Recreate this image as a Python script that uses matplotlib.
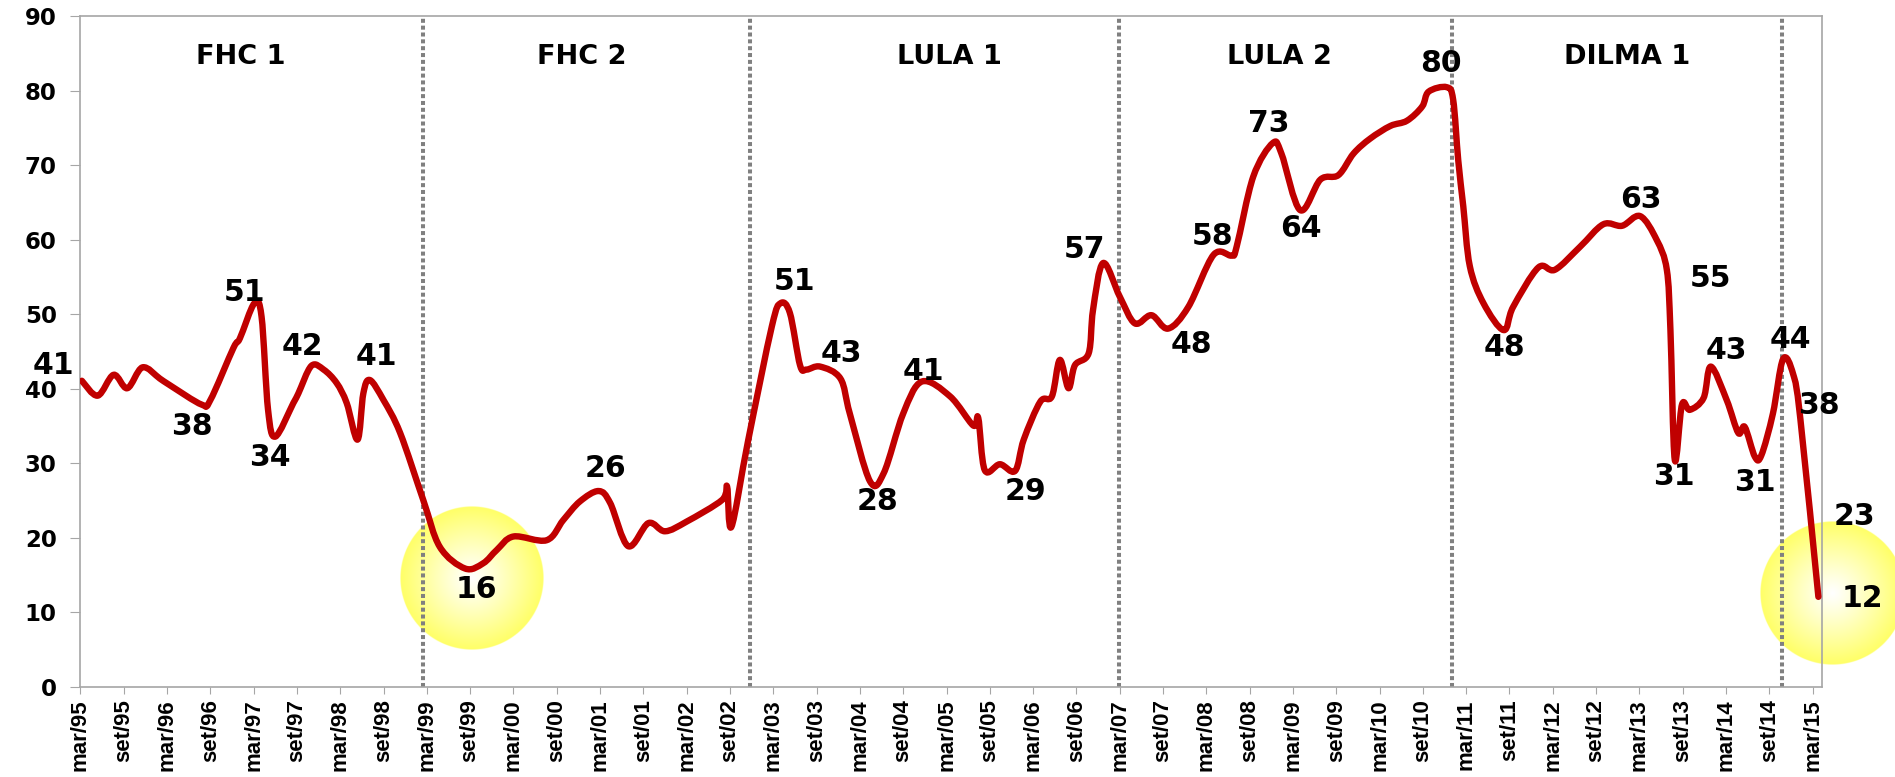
import matplotlib.pyplot as plt
import numpy as np
from matplotlib.path import Path
from matplotlib.patches import PathPatch

# survey month (0 = mar/95) and approval (%)
months = [0.2, 2.4, 4.6, 6.5, 8.6, 11.0, 12.4, 16.8, 18.0, 21.2, 22.1, 24.1, 25.1, 26.0, 27.0,
          29.5, 30.2, 32.0, 33.7, 35.5, 36.9, 38.4, 39.2, 40.1, 42.0, 44.3, 47.5, 49.8, 53.3,
          55.8, 57.7, 60.0, 64.6, 66.9, 69.2, 71.8, 73.4, 75.9, 78.7, 81.0, 84.0, 88.9, 89.6,
          90.2, 92.5, 95.8, 97.0, 98.3, 99.7, 100.6, 102.5, 105.3, 106.6, 109.4, 111.3, 114.0, 116.6,
          120.5, 123.7, 124.4, 125.3, 127.4, 129.5, 130.7, 133.0, 134.6, 135.7, 136.9, 137.8,
          139.7, 140.3, 141.7, 144.0, 146.1, 148.4, 150.7, 153.5, 157.0, 159.5, 160.2, 162.5,
          165.2, 166.4, 169.0, 171.8, 174.3, 176.4, 178.7, 181.5, 183.8, 185.9, 186.8, 189.3,
          190.2, 190.9, 191.6, 192.5, 194.4, 197.2, 198.5, 202.0, 204.3, 207.8, 211.0, 213.6,
          216.1, 218.4, 219.8, 220.3, 220.9, 221.9, 223.0, 224.9, 225.9, 228.1, 229.7, 230.6,
          232.0, 232.9, 234.5, 235.9, 237.3, 238.3, 240.8]
approval = [41.1, 39.1, 41.9, 40.1, 42.9, 41.4, 40.5, 37.9, 38.5, 45.5, 46.8, 51.5, 49.7, 37.2, 33.6,
            38.1, 39.4, 43.1, 42.6, 40.8, 38.1, 33.2, 39.4, 41.2, 38.5, 34.1, 25.1, 18.8, 15.9,
            16.6, 18.4, 20.2, 19.7, 22.4, 24.9, 26.3, 24.7, 18.9, 22.0, 20.9, 22.2, 25.1, 26.9,
            21.5, 33.0, 48.4, 51.5, 50.2, 43.2, 42.6, 43.0, 41.4, 36.7, 27.6, 28.7, 36.7, 41.0,
            39.0, 35.1, 36.1, 29.1, 29.9, 29.0, 33.2, 38.3, 39.0, 43.9, 40.1, 43.2,
            44.8, 50.6, 56.9, 52.4, 48.8, 49.9, 48.1, 51.0, 58.0, 57.9, 59.1, 68.5,
            73.0, 71.6, 64.0, 68.1, 68.7, 71.6, 73.6, 75.3, 76.0, 77.9, 79.9, 80.5,
            78.8, 70.7, 64.5, 56.5, 51.5, 47.9, 51.0, 56.3, 56.0, 59.1, 62.1, 61.9,
            63.2, 60.0, 56.0, 47.9, 30.5, 37.9, 37.2, 38.8, 43.0, 38.5, 34.1, 34.9,
            30.9, 31.1, 36.7, 44.0, 42.0, 36.0, 12.1]

tick_labels = []
for yr in range(95, 115):
    tick_labels.append('mar/%02d' % (yr % 100))
    tick_labels.append('set/%02d' % (yr % 100))
tick_labels.append('mar/15')

terms = ['FHC 1', 'FHC 2', 'LULA 1', 'LULA 2', 'DILMA 1']
term_breaks = [47.5, 92.8, 143.9, 190.0, 235.7]

point_labels = ['41', '38', '51', '34', '42', '41', '16', '26', '51', '43', '28', '41', '29', '57',
                '48', '58', '73', '64', '80', '48', '63', '55', '43', '44', '31', '31', '38', '23', '12']

# label placement (month, value)
label_pos = [(-3.8, 43.1), (15.5, 35.0), (22.8, 53.0), (26.3, 30.8), (30.8, 45.7), (41.0, 44.3),
             (54.8, 13.1), (72.7, 29.3), (98.9, 54.4), (105.5, 44.8), (110.4, 24.9), (116.8, 42.3),
             (130.9, 26.2), (139.1, 58.7), (153.9, 45.9), (156.8, 60.4), (164.6, 75.6), (169.1, 61.6),
             (188.5, 83.7), (197.3, 45.6), (216.2, 65.4), (225.8, 54.8), (228.0, 45.2), (236.9, 46.6),
             (220.7, 28.2), (232.0, 27.5), (240.8, 37.8), (245.8, 22.9), (246.9, 11.9)]
term_pos = [22.2, 69.5, 120.4, 166.1, 214.3]

fig = plt.figure(figsize=(18.95, 7.77), dpi=100)
ax = fig.add_axes([80.4 / 1895, 1 - 687 / 777, (1822 - 80.4) / 1895, (687 - 16.4) / 777])


def glow(x0, x1, y0, y1):
    n = 300
    yy, xx = np.mgrid[-1:1:n * 1j, -1:1:n * 1j]
    r = np.sqrt(xx ** 2 + yy ** 2)
    t = np.clip(r, 0, 1) ** 1.1
    img = np.ones((n, n, 4))
    img[..., 2] = 1 - t * 0.6
    img[..., 3] = np.clip((1 - r) * n / 2, 0, 1)
    ax.imshow(img, extent=(x0, x1, y0, y1), origin='lower', aspect='auto',
              interpolation='bilinear', zorder=1, clip_on=False)


glow(44.3, 64.2, 5.0, 24.3)
glow(232.7, 252.7, 2.9, 22.2)

for b in term_breaks:
    ax.axvline(b, color='#808080', lw=2.9, linestyle=(0, (1, 0.7)), dash_capstyle='butt', zorder=2)

# smoothed line through the survey points (like Excel's smoothed line)
pts = np.column_stack([months, approval])
verts = [pts[0]]
codes = [Path.MOVETO]
for i in range(len(pts) - 1):
    p0 = pts[max(i - 1, 0)]
    p1 = pts[i]
    p2 = pts[i + 1]
    p3 = pts[min(i + 2, len(pts) - 1)]
    verts += [p1 + (p2 - p0) / 6, p2 - (p3 - p1) / 6, p2]
    codes += [Path.CURVE4] * 3
ax.add_patch(PathPatch(Path(verts, codes), fill=False, edgecolor='#C00000', lw=4.6,
                       joinstyle='round', capstyle='round', zorder=3))

for t, (x, y) in zip(point_labels, label_pos):
    ax.text(x, y, t, ha='center', va='center', fontsize=21.5, fontweight='bold',
            family='DejaVu Sans', zorder=4)
for t, x in zip(terms, term_pos):
    ax.text(x, 84.6, t, ha='center', va='center', fontsize=19.5, fontweight='bold',
            family='DejaVu Sans', zorder=4)

ax.set_xlim(0, 241.3)
ax.set_ylim(0, 90)
ax.set_aspect('auto')
ax.set_xticks(range(0, 241, 6))
ax.set_xticklabels(tick_labels, rotation=90, fontsize=16, fontweight='bold', family='Liberation Sans')
ax.set_yticks(range(0, 91, 10))
ax.set_yticklabels([str(v) for v in range(0, 91, 10)], fontsize=16.5, fontweight='bold', family='DejaVu Sans')
ax.tick_params(axis='y', length=7, color='#A6A6A6', pad=10)
ax.tick_params(axis='x', length=5, color='#A6A6A6', pad=4)
for s in ax.spines.values():
    s.set_color('#A6A6A6')
    s.set_linewidth(1.2)

fig.savefig('out.png', dpi=100)
